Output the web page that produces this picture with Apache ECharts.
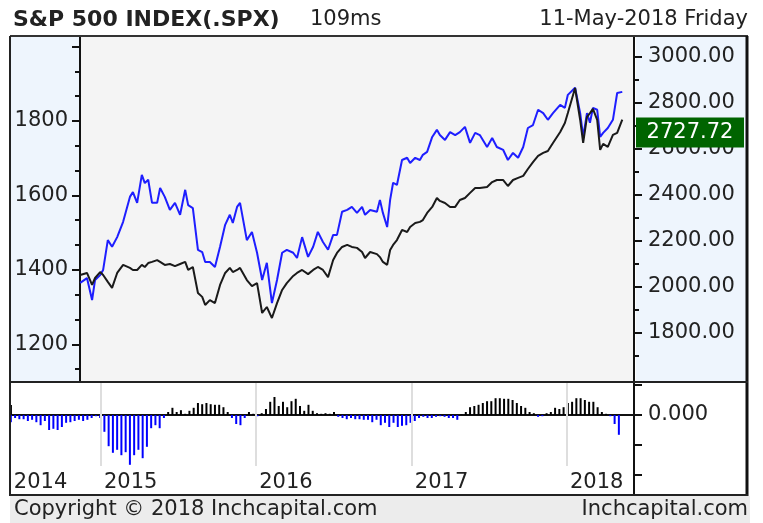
<!DOCTYPE html>
<html>
<head>
<meta charset="utf-8">
<script src="https://cdn.jsdelivr.net/npm/echarts@6/dist/echarts.min.js"></script>
<style>
html, body { margin: 0; padding: 0; background: #fff; }
#chart { width: 763px; height: 523px; }
</style>
</head>
<body>
<div id="chart"></div>
<script>
// weekly-ish closes
var dates = ['2014-11-13','2014-11-29','2014-12-11','2014-12-18','2014-12-30','2015-01-06','2015-01-17','2015-01-27','2015-02-08','2015-02-22',
  '2015-03-10','2015-03-17','2015-03-27','2015-04-07','2015-04-14','2015-04-22','2015-05-01','2015-05-13','2015-05-20','2015-05-31',
  '2015-06-12','2015-06-24','2015-07-06','2015-07-18','2015-07-25','2015-08-05','2015-08-17','2015-08-27','2015-09-03','2015-09-14',
  '2015-09-26','2015-10-08','2015-10-20','2015-10-31','2015-11-07','2015-11-17','2015-11-24','2015-12-10','2015-12-22','2016-01-03',
  '2016-01-15','2016-01-26','2016-02-07','2016-02-19','2016-03-02','2016-03-13','2016-03-28','2016-04-06','2016-04-18','2016-05-02',
  '2016-05-14','2016-05-25','2016-06-06','2016-06-18','2016-06-30','2016-07-09','2016-07-21','2016-08-02','2016-08-13','2016-08-25',
  '2016-09-06','2016-09-13','2016-09-25','2016-10-11','2016-10-18','2016-10-25','2016-11-04','2016-11-11','2016-11-18','2016-11-27',
  '2016-12-09','2016-12-21','2016-12-28','2017-01-09','2017-01-20','2017-01-27','2017-02-06','2017-02-18','2017-03-01','2017-03-08',
  '2017-03-20','2017-04-01','2017-04-13','2017-04-24','2017-05-06','2017-05-18','2017-05-30','2017-06-10','2017-06-27','2017-07-09',
  '2017-07-20','2017-08-04','2017-08-15','2017-08-27','2017-09-08','2017-09-20','2017-10-01','2017-10-13','2017-10-25','2017-11-06',
  '2017-11-17','2017-11-29','2017-12-16','2017-12-27','2018-01-03','2018-01-20','2018-02-01','2018-02-08','2018-02-17','2018-02-24',
  '2018-03-03','2018-03-13','2018-03-20','2018-03-27','2018-04-07','2018-04-19','2018-04-29','2018-05-11'];

// blue line, left axis
var blueVals = [1365,1378,1319,1373,1386,1400,1480,1462,1488,1529,
  1596,1609,1580,1655,1633,1642,1580,1580,1620,1596,
  1561,1580,1548,1615,1574,1566,1454,1448,1421,1421,
  1408,1462,1521,1548,1526,1569,1580,1480,1502,1446,
  1373,1419,1311,1373,1446,1454,1446,1432,1488,1435,
  1462,1502,1475,1454,1494,1494,1556,1561,1569,1553,
  1569,1548,1561,1556,1588,1553,1515,1588,1634,1628,
  1695,1701,1687,1701,1695,1709,1717,1757,1776,1762,
  1749,1770,1762,1770,1784,1741,1768,1762,1730,1754,
  1730,1722,1695,1714,1701,1730,1781,1789,1830,1821,
  1803,1821,1843,1835,1870,1889,1821,1757,1821,1795,
  1835,1830,1757,1768,1781,1803,1875,1878];

// S&P 500, right axis
var spxVals = [2052,2061,2009,2039,2065,2052,2022,1996,2061,2096,
  2083,2074,2074,2096,2087,2104,2109,2117,2109,2096,
  2100,2091,2100,2109,2074,2087,1974,1957,1922,1943,
  1930,2009,2061,2083,2065,2074,2083,2030,2004,2017,
  1887,1913,1865,1930,1987,2017,2048,2061,2074,2056,
  2074,2087,2074,2043,2117,2148,2174,2183,2174,2170,
  2152,2126,2152,2143,2130,2109,2096,2161,2183,2204,
  2248,2239,2261,2278,2283,2291,2322,2348,2387,2374,
  2365,2348,2348,2378,2387,2409,2430,2430,2435,2456,
  2465,2465,2439,2465,2474,2483,2513,2543,2570,2583,
  2591,2626,2674,2713,2756,2865,2726,2626,2739,2756,
  2774,2726,2596,2622,2609,2661,2670,2727.72];

// lower panel oscillator, one bar every 10 days from histStart
var histStart = '2014-06-03';
var histStepDays = 10;
var histVals = [-0.012,-0.005,-0.007,-0.007,-0.010,-0.008,-0.012,-0.017,-0.010,-0.025,
  -0.023,-0.025,-0.020,-0.013,-0.012,-0.010,-0.008,-0.010,-0.008,-0.005,
  -0.002,-0.005,-0.028,-0.052,-0.063,-0.058,-0.067,-0.062,-0.083,-0.067,
  -0.058,-0.072,-0.053,-0.022,-0.017,-0.022,-0.005,0.005,0.012,0.005,
  0.008,0.002,0.007,0.012,0.020,0.018,0.020,0.018,0.017,0.017,
  0.013,0.005,-0.005,-0.015,-0.017,-0.005,0.005,0.002,-0.002,0.003,
  0.010,0.022,0.030,0.015,0.022,0.013,0.023,0.027,0.015,0.007,
  0.017,0.007,0.003,0.002,0.003,0.002,0.005,-0.003,-0.005,-0.007,
  -0.005,-0.007,-0.007,-0.008,-0.008,-0.012,-0.008,-0.017,-0.013,-0.020,
  -0.013,-0.020,-0.018,-0.017,-0.013,-0.010,-0.005,-0.003,-0.005,-0.005,
  -0.003,-0.002,-0.003,-0.005,-0.005,-0.008,0.001,0.005,0.013,0.015,
  0.017,0.020,0.023,0.023,0.028,0.028,0.027,0.027,0.025,0.020,
  0.015,0.012,0.005,0.003,-0.003,-0.002,0.003,0.005,0.012,0.010,
  0.013,0.020,0.022,0.028,0.028,0.025,0.022,0.022,0.013,0.005,
  0.002,-0.002,-0.015,-0.033];

var yearTicks = ['2014-06-03','2015-01-01','2016-01-01','2017-01-01','2018-01-01'];
var leftTicks = [1200,1400,1600,1800,2000];
var leftLabels = [1200,1400,1600,1800];
var leftMinor = [1133.33,1266.67,1333.33,1466.67,1533.33,1666.67,1733.33,1866.67,1933.33];
var rightTicks = [1800,2000,2200,2400,2600,2800,3000];
var rightMinor = [1700,1900,2100,2300,2500,2700,2900];
var oscTicks = [0.05,0,-0.05,-0.1];

var FONT = 'DejaVu Sans';
var TXT = '#222';

function tp(s) { return +new Date(s.replace(/-/g, '/')); }

var blueData = dates.map(function (d, i) { return [tp(d), blueVals[i]]; });
var spxData = dates.map(function (d, i) { return [tp(d), spxVals[i]]; });
var h0 = tp(histStart);
var histData = histVals.map(function (v, i) { return [h0 + i * histStepDays * 864e5, v]; });
var yearTimes = yearTicks.map(tp);

var chart = echarts.init(document.getElementById('chart'));

function hline(x1, y1, x2, y2, w, c) {
    return { type: 'line', z: 100, shape: { x1: x1, y1: y1, x2: x2, y2: y2 }, style: { stroke: c || '#222', lineWidth: w } };
}
function txt(x, y, s, opt) {
    opt = opt || {};
    return { type: 'text', z: opt.z || 100, style: {
        x: x, y: y, text: s, fill: opt.fill || TXT,
        font: (opt.bold ? 'bold ' : '') + (opt.size || 21) + 'px "' + FONT + '"',
        align: opt.align || 'left', textAlign: opt.align || 'left',
        verticalAlign: 'middle', textVerticalAlign: 'middle'
    } };
}

chart.setOption({
    animation: false,
    grid: [
        { left: 80, top: 36, width: 554, height: 346, show: true, backgroundColor: '#f4f4f4', borderWidth: 0 },
        { left: 10, top: 382, width: 624, height: 113, show: true, backgroundColor: '#fff', borderWidth: 0 }
    ],
    xAxis: [
        { gridIndex: 0, type: 'value', min: tp('2014-11-12 14:00'), max: tp('2018-06-07 14:00'), show: false, splitLine: { show: false } },
        {
            gridIndex: 1, type: 'value', min: tp('2014-06-01'), max: tp('2018-06-07 14:00'),
            position: 'bottom', offset: -29,
            axisLine: { show: true, lineStyle: { color: '#111', width: 2 } },
            axisTick: { show: true, inside: true, length: 10, customValues: yearTimes, lineStyle: { color: '#111', width: 2 } },
            axisLabel: {
                customValues: yearTimes, align: 'left', padding: [0, 0, 0, 3], margin: 6,
                fontFamily: FONT, fontSize: 21, color: TXT,
                formatter: function (v) { return String(new Date(v).getFullYear()); }
            },
            splitLine: { show: false }
        }
    ],
    yAxis: [
        {
            gridIndex: 0, type: 'value', position: 'left', min: 1099, max: 2028,
            axisLine: { show: true, lineStyle: { color: '#111', width: 2 } },
            axisTick: { show: true, length: 8, customValues: leftTicks, lineStyle: { color: '#111', width: 2 } },
            axisLabel: {
                customValues: leftLabels, margin: 12, fontFamily: FONT, fontSize: 21, color: TXT,
                formatter: function (v) { return String(v); }
            },
            splitLine: { show: false }
        },
        {
            gridIndex: 0, type: 'value', position: 'left', min: 1099, max: 2028,
            axisLine: { show: false },
            axisTick: { show: true, length: 5, customValues: leftMinor, lineStyle: { color: '#111', width: 2 } },
            axisLabel: { show: false }, splitLine: { show: false }
        },
        {
            gridIndex: 0, type: 'value', position: 'right', min: 1587, max: 3091,
            axisLine: { show: true, lineStyle: { color: '#111', width: 2 } },
            axisTick: { show: true, length: 8, customValues: rightTicks, lineStyle: { color: '#111', width: 2 } },
            axisLabel: {
                customValues: rightTicks, margin: 14, fontFamily: FONT, fontSize: 21, color: TXT,
                formatter: function (v) { return v.toFixed(2); }
            },
            splitLine: { show: false }
        },
        {
            gridIndex: 0, type: 'value', position: 'right', min: 1587, max: 3091,
            axisLine: { show: false },
            axisTick: { show: true, length: 5, customValues: rightMinor, lineStyle: { color: '#111', width: 2 } },
            axisLabel: { show: false }, splitLine: { show: false }
        },
        {
            gridIndex: 1, type: 'value', position: 'right', min: -0.13333, max: 0.055,
            axisLine: { show: true, lineStyle: { color: '#111', width: 2 } },
            axisTick: { show: true, length: 8, customValues: oscTicks, lineStyle: { color: '#111', width: 2 } },
            axisLabel: {
                customValues: [0], margin: 14, fontFamily: FONT, fontSize: 21, color: TXT,
                formatter: function (v) { return v.toFixed(3); }
            },
            splitLine: { show: false }
        }
    ],
    series: [
        {
            name: 'compare', type: 'line', xAxisIndex: 0, yAxisIndex: 0, data: blueData,
            showSymbol: false, symbol: 'none', z: 3,
            lineStyle: { color: '#1e1eff', width: 2 }
        },
        {
            name: 'SPX', type: 'line', xAxisIndex: 0, yAxisIndex: 2, data: spxData,
            showSymbol: false, symbol: 'none', z: 4,
            lineStyle: { color: '#1a1a1a', width: 2 }
        },
        {
            name: 'osc', type: 'bar', xAxisIndex: 1, yAxisIndex: 4, data: histData,
            barWidth: 2, z: 3,
            itemStyle: { color: function (p) { return p.value[1] < 0 ? '#0000ff' : '#000'; } },
            markLine: {
                silent: true, symbol: 'none', label: { show: false },
                lineStyle: { color: '#dedede', width: 2, type: 'solid' },
                data: yearTimes.slice(1).map(function (t) {
                    return [{ coord: [t, 0.055] }, { coord: [t, -0.085] }];
                })
            }
        }
    ]
});

// last-price tag on the right axis
var lastVal = spxVals[spxVals.length - 1];
var py = chart.convertToPixel({ yAxisIndex: 2 }, lastVal);

chart.setOption({
    graphic: [
        { type: 'rect', z: -10, shape: { x: 11, y: 37, width: 68, height: 345 }, style: { fill: '#eef5fd' } },
        { type: 'rect', z: -10, shape: { x: 636, y: 37, width: 110, height: 345 }, style: { fill: '#eef5fd' } },
        { type: 'rect', z: -10, shape: { x: 10, y: 496, width: 740, height: 27 }, style: { fill: '#ececec' } },
        hline(10, 36, 748, 36, 2, '#333'),
        hline(10, 36, 10, 496, 2, '#222'),
        hline(747, 36, 747, 496, 3, '#111'),
        hline(10, 382, 748, 382, 2, '#222'),
        hline(10, 495, 748, 495, 2, '#222'),
        { type: 'rect', z: 101, shape: { x: 636, y: py - 2, width: 108, height: 30 }, style: { fill: '#006400' } },
        txt(690, py + 13, lastVal.toFixed(2), { fill: '#fff', align: 'center', z: 102 }),
        txt(13, 20, 'S&P 500 INDEX(.SPX)', { bold: true, size: 22 }),
        txt(310, 20, '109ms'),
        txt(748, 20, '11-May-2018 Friday', { align: 'right' }),
        txt(14, 510, 'Copyright © 2018 Inchcapital.com'),
        txt(748, 510, 'Inchcapital.com', { align: 'right' })
    ]
});
</script>
</body>
</html>
